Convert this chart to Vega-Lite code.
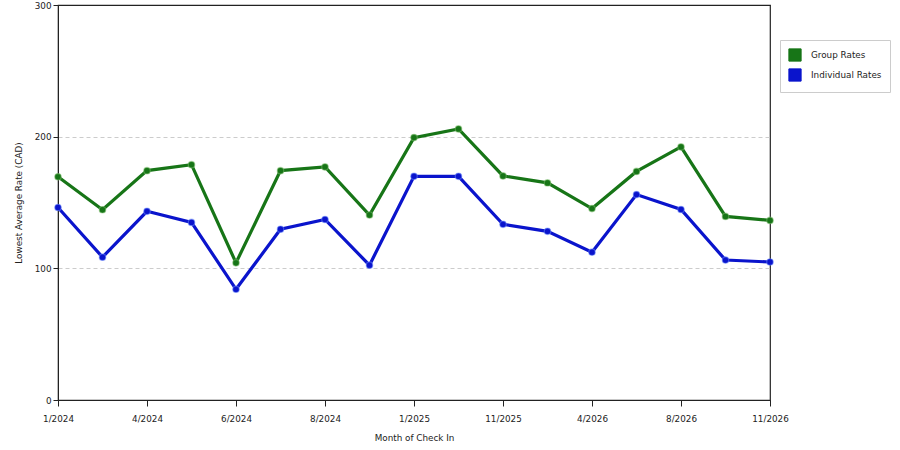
{
  "$schema": "https://vega.github.io/schema/vega-lite/v6.json",
  "width": 712,
  "height": 395,
  "autosize": {"type": "none"},
  "padding": {"left": 58, "top": 5, "right": 130, "bottom": 50},
  "background": "white",
  "config": {
    "font": "DejaVu Sans",
    "view": {"stroke": "#222", "strokeWidth": 1.2},
    "axis": {
      "labelFont": "DejaVu Sans",
      "labelFontSize": 8.8,
      "labelColor": "#222",
      "titleFont": "DejaVu Sans",
      "titleFontSize": 8.8,
      "titleFontWeight": "normal",
      "titleColor": "#222",
      "domainColor": "#222",
      "tickColor": "#222",
      "tickSize": 6
    }
  },
  "data": {
    "values": [
      {"month": "1/2024", "series": "Group Rates", "rate": 169.5},
      {"month": "3/2024", "series": "Group Rates", "rate": 144.5},
      {"month": "4/2024", "series": "Group Rates", "rate": 174.2},
      {"month": "5/2024", "series": "Group Rates", "rate": 178.7},
      {"month": "6/2024", "series": "Group Rates", "rate": 104.2},
      {"month": "7/2024", "series": "Group Rates", "rate": 174.2},
      {"month": "8/2024", "series": "Group Rates", "rate": 177.0},
      {"month": "10/2024", "series": "Group Rates", "rate": 140.5},
      {"month": "1/2025", "series": "Group Rates", "rate": 199.3},
      {"month": "5/2025", "series": "Group Rates", "rate": 205.9},
      {"month": "11/2025", "series": "Group Rates", "rate": 170.2},
      {"month": "1/2026", "series": "Group Rates", "rate": 164.9},
      {"month": "4/2026", "series": "Group Rates", "rate": 145.4},
      {"month": "6/2026", "series": "Group Rates", "rate": 173.6},
      {"month": "8/2026", "series": "Group Rates", "rate": 192.2},
      {"month": "10/2026", "series": "Group Rates", "rate": 139.4},
      {"month": "11/2026", "series": "Group Rates", "rate": 136.4},
      {"month": "1/2024", "series": "Individual Rates", "rate": 146.2},
      {"month": "3/2024", "series": "Individual Rates", "rate": 108.5},
      {"month": "4/2024", "series": "Individual Rates", "rate": 143.3},
      {"month": "5/2024", "series": "Individual Rates", "rate": 134.9},
      {"month": "6/2024", "series": "Individual Rates", "rate": 84.1},
      {"month": "7/2024", "series": "Individual Rates", "rate": 129.7},
      {"month": "8/2024", "series": "Individual Rates", "rate": 137.1},
      {"month": "10/2024", "series": "Individual Rates", "rate": 102.4},
      {"month": "1/2025", "series": "Individual Rates", "rate": 169.9},
      {"month": "5/2025", "series": "Individual Rates", "rate": 169.9},
      {"month": "11/2025", "series": "Individual Rates", "rate": 133.4},
      {"month": "1/2026", "series": "Individual Rates", "rate": 128.1},
      {"month": "4/2026", "series": "Individual Rates", "rate": 112.3},
      {"month": "6/2026", "series": "Individual Rates", "rate": 156.0},
      {"month": "8/2026", "series": "Individual Rates", "rate": 144.7},
      {"month": "10/2026", "series": "Individual Rates", "rate": 106.3},
      {"month": "11/2026", "series": "Individual Rates", "rate": 104.8}
    ]
  },
  "encoding": {
    "x": {
      "field": "month",
      "type": "ordinal",
      "sort": null,
      "scale": {"type": "point", "padding": 0},
      "title": "Month of Check In",
      "axis": {
        "values": ["1/2024", "4/2024", "6/2024", "8/2024", "1/2025", "11/2025", "4/2026", "8/2026", "11/2026"],
        "labelAngle": 0,
        "labelPadding": 8,
        "titlePadding": 11,
        "grid": false
      }
    },
    "y": {
      "field": "rate",
      "type": "quantitative",
      "scale": {"domain": [0, 300]},
      "title": "Lowest Average Rate (CAD)",
      "axis": {
        "values": [0, 100, 200, 300],
        "tickSize": 5,
        "labelPadding": 2,
        "titlePadding": 11,
        "grid": true,
        "gridColor": {"condition": {"test": "datum.value == 300", "value": "#222"}, "value": "#cccccc"},
        "gridDash": {"condition": {"test": "datum.value == 300", "value": []}, "value": [4, 3]},
        "gridWidth": 1
      }
    },
    "color": {
      "field": "series",
      "type": "nominal",
      "scale": {"domain": ["Group Rates", "Individual Rates"], "range": ["#177517", "#0a14cc"]},
      "legend": {
        "title": null,
        "orient": "none",
        "legendX": 722,
        "legendY": 35,
        "symbolType": "square",
        "symbolSize": 150,
        "symbolStrokeWidth": 1,
        "symbolOpacity": 1,
        "labelFont": "DejaVu Sans",
        "labelFontSize": 8.8,
        "labelColor": "#222",
        "labelOffset": 9,
        "rowPadding": 2,
        "padding": 8,
        "strokeColor": "#cccccc",
        "fillColor": "white"
      }
    }
  },
  "layer": [
    {"mark": {"type": "line", "strokeWidth": 3.2}},
    {
      "mark": {"type": "circle", "size": 42, "opacity": 1, "strokeWidth": 1.2, "strokeOpacity": 0.5},
      "encoding": {
        "stroke": {
          "field": "series",
          "type": "nominal",
          "scale": {"domain": ["Group Rates", "Individual Rates"], "range": ["#7fbf6f", "#6f8fff"]},
          "legend": null
        }
      }
    }
  ]
}
